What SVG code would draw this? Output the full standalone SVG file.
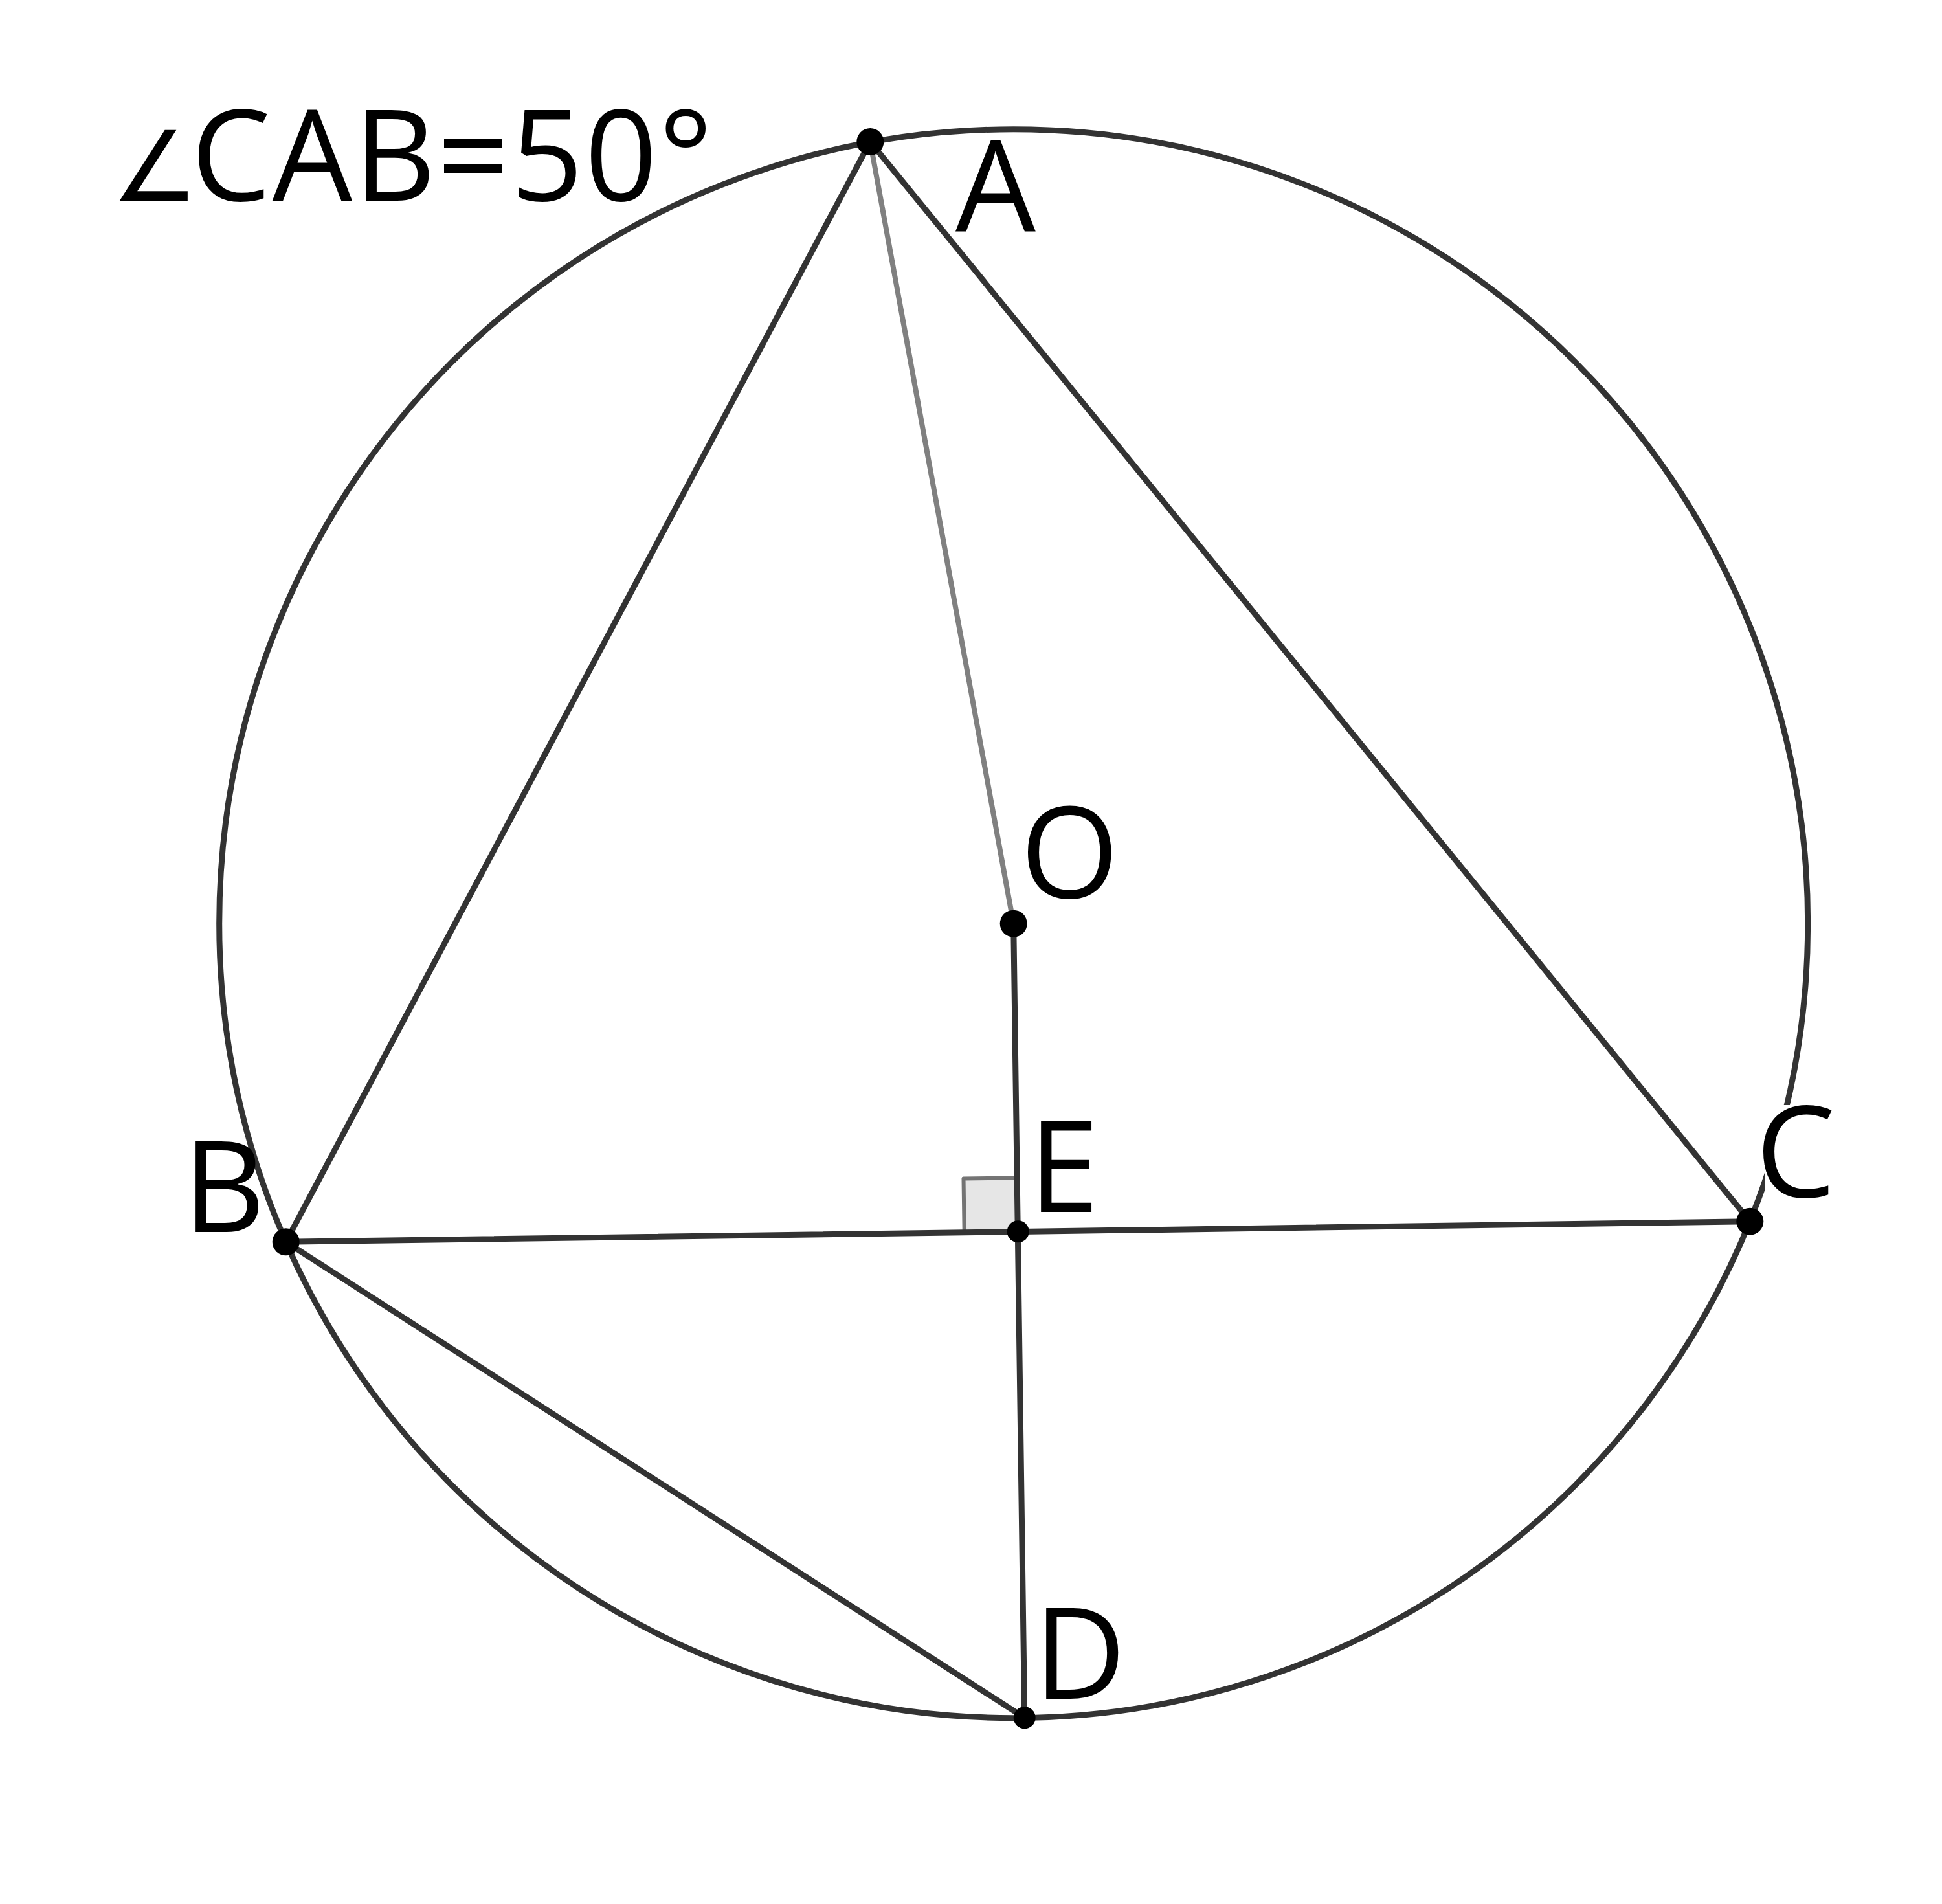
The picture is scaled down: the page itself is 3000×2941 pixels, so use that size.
<svg xmlns="http://www.w3.org/2000/svg" width="3000" height="2941" viewBox="0 0 3000 2941">
<style>
.ln{stroke:#333333;stroke-width:9;fill:none;stroke-linecap:round}
.gr{stroke:#808080;stroke-width:8;fill:none;stroke-linecap:round}
.pt{fill:#000000}
.bg{fill:#ffffff}
.lb{font-family:"Open Sans","Noto Sans","DejaVu Sans",sans-serif;font-size:196px;fill:#000000}
.ang{font-family:"Liberation Sans","DejaVu Sans",sans-serif}
</style>
<rect width="3000" height="2941" fill="#ffffff"/>
<g id="circle">
<circle cx="1565.7" cy="1426.7" r="1227" class="ln"/>
</g>
<g id="right-angle">
<polygon points="1572.7,1902.3 1489.7,1903.5 1488.5,1820.5 1571.5,1819.3" fill="#e6e6e6" stroke="#666666" stroke-width="6" stroke-linejoin="round" stroke-opacity="0.9"/>
</g>
<g id="connectors">
<line x1="1344.3" y1="219" x2="441.7" y2="1918.3" class="ln"/>
<line x1="1344.3" y1="219" x2="2703.3" y2="1886.7" class="ln"/>
<line x1="441.7" y1="1918.3" x2="2703.3" y2="1886.7" class="ln"/>
<line x1="441.7" y1="1918.3" x2="1582.7" y2="2653.3" class="ln"/>
<line x1="1565.7" y1="1426.7" x2="1582.7" y2="2653.3" class="ln"/>
<line x1="1344.3" y1="219" x2="1565.7" y2="1426.7" class="gr"/>
</g>
<g id="title">
<text y="310" class="lb"><tspan x="172" class="ang" font-size="150">∠</tspan><tspan x="295" letter-spacing="2">CAB=50°</tspan></text>
</g>
<g id="A"><circle cx="1344.3" cy="219" r="21" class="pt"/><text x="1476" y="356.7" class="lb">A</text></g>
<g id="B"><circle cx="441.7" cy="1918.3" r="21" class="pt"/><text x="283" y="1903" class="lb">B</text></g>
<g id="C"><rect x="2726" y="1707" width="107" height="146" class="bg"/><circle cx="2703.3" cy="1886.7" r="21" class="pt"/><text x="2712" y="1849" class="lb">C</text></g>
<g id="O"><circle cx="1565.7" cy="1426.7" r="21" class="pt"/><text x="1576" y="1387" class="lb">O</text></g>
<g id="E"><circle cx="1572.7" cy="1902.3" r="17" class="pt"/><text x="1589" y="1872" class="lb">E</text></g>
<g id="D"><circle cx="1582.7" cy="2653.3" r="17" class="pt"/><text x="1597" y="2624" class="lb">D</text></g>
</svg>
